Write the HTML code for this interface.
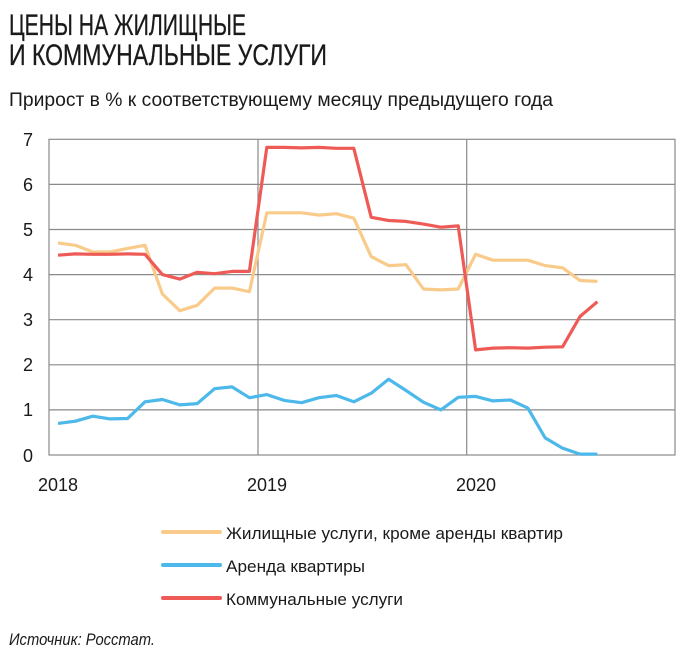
<!DOCTYPE html>
<html><head><meta charset="utf-8"><style>
html,body{margin:0;padding:0;background:#fff;}
svg{display:block;font-family:"Liberation Sans",sans-serif;}
</style></head><body>
<svg width="700" height="668" viewBox="0 0 700 668">
<text x="9" y="35" font-size="30" fill="#1a1a1a" stroke="#1a1a1a" stroke-width="0.3" textLength="237" lengthAdjust="spacingAndGlyphs">ЦЕНЫ НА ЖИЛИЩНЫЕ</text>
<text x="9" y="65" font-size="30" fill="#1a1a1a" stroke="#1a1a1a" stroke-width="0.3" textLength="318" lengthAdjust="spacingAndGlyphs">И КОММУНАЛЬНЫЕ УСЛУГИ</text>
<text x="9" y="106" font-size="19" fill="#1a1a1a" textLength="544" lengthAdjust="spacingAndGlyphs">Прирост в % к соответствующему месяцу предыдущего года</text>
<g stroke="#8a8a8a" stroke-width="1.2" fill="none">
<rect x="49" y="139.3" width="626" height="315.7"/>
<line x1="49" x2="675" y1="184.4" y2="184.4"/>
<line x1="49" x2="675" y1="229.5" y2="229.5"/>
<line x1="49" x2="675" y1="274.6" y2="274.6"/>
<line x1="49" x2="675" y1="319.7" y2="319.7"/>
<line x1="49" x2="675" y1="364.8" y2="364.8"/>
<line x1="49" x2="675" y1="409.9" y2="409.9"/>
<line x1="258" x2="258" y1="139.3" y2="455"/>
<line x1="466.7" x2="466.7" y1="139.3" y2="455"/>
</g>
<g font-size="18" fill="#1a1a1a" text-anchor="middle">
<text x="28" y="146">7</text><text x="28" y="191">6</text><text x="28" y="236">5</text><text x="28" y="281">4</text>
<text x="28" y="326">3</text><text x="28" y="371">2</text><text x="28" y="416">1</text><text x="28" y="462">0</text>
<text x="58" y="491">2018</text><text x="267" y="491">2019</text><text x="476" y="491">2020</text>
</g>
<g fill="none" stroke-width="3.2" stroke-linejoin="round" id="series"></g>
<g stroke-width="4" stroke-linecap="round">
<line x1="163" x2="220" y1="532" y2="532" stroke="#f9cb8a"/>
<line x1="163" x2="220" y1="565" y2="565" stroke="#4db8ea"/>
<line x1="163" x2="220" y1="598" y2="598" stroke="#ee5b57"/>
</g>
<g font-size="17" fill="#1a1a1a">
<text x="226" y="539" textLength="337" lengthAdjust="spacingAndGlyphs">Жилищные услуги, кроме аренды квартир</text>
<text x="226" y="572" textLength="139" lengthAdjust="spacingAndGlyphs">Аренда квартиры</text>
<text x="226" y="605" textLength="177" lengthAdjust="spacingAndGlyphs">Коммунальные услуги</text>
<text x="9" y="645" font-style="italic" textLength="146" lengthAdjust="spacingAndGlyphs">Источник: Росстат.</text>
</g>
<script>
var o=[4.7,4.65,4.5,4.5,4.58,4.65,3.57,3.2,3.32,3.7,3.7,3.62,5.37,5.37,5.37,5.32,5.35,5.25,4.4,4.2,4.22,3.68,3.66,3.68,4.45,4.32,4.32,4.32,4.2,4.15,3.87,3.85];
var r=[4.43,4.46,4.45,4.45,4.46,4.45,4.0,3.9,4.05,4.02,4.07,4.07,6.82,6.82,6.81,6.82,6.8,6.8,5.27,5.2,5.18,5.12,5.05,5.08,2.33,2.37,2.38,2.37,2.39,2.4,3.07,3.4];
var b=[0.7,0.75,0.86,0.8,0.81,1.18,1.23,1.11,1.14,1.47,1.51,1.27,1.34,1.21,1.16,1.27,1.32,1.18,1.37,1.68,1.43,1.17,1.0,1.28,1.3,1.2,1.22,1.04,0.38,0.15,0.02,0.02];
function pts(a){return a.map(function(v,i){return (58+i*17.4).toFixed(1)+","+(455-v*45.1).toFixed(1)}).join(" ");}
var g=document.getElementById("series"),ns="http://www.w3.org/2000/svg";
[[o,"#f9cb8a"],[b,"#4db8ea"],[r,"#ee5b57"]].forEach(function(s){var p=document.createElementNS(ns,"polyline");p.setAttribute("points",pts(s[0]));p.setAttribute("stroke",s[1]);g.appendChild(p);});
</script>
</svg>
</body></html>
